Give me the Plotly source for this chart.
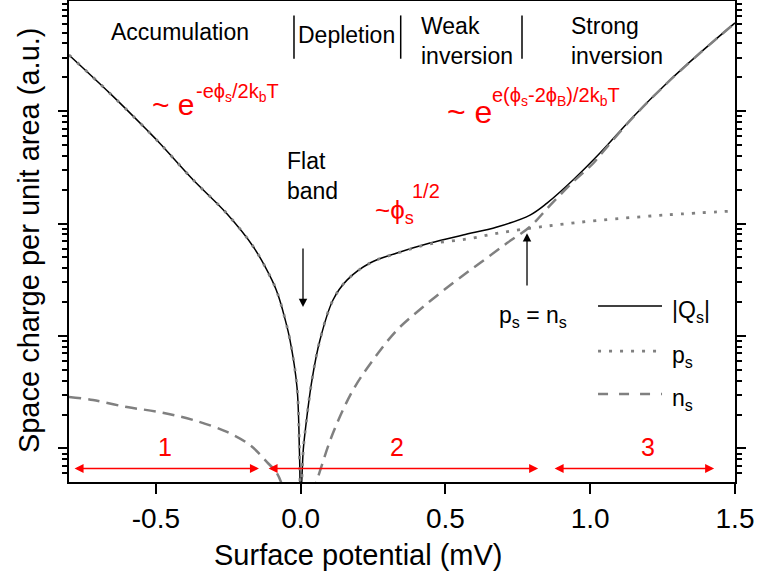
import plotly.graph_objects as go

# Surface potential (mV) and space-charge components (a.u.)
qs_phi = [-0.80, -0.6584, -0.5306, -0.4857, -0.3707, -0.2554, -0.1635, -0.0990,
          -0.0827, -0.0713, -0.055, -0.0368, -0.0126, -0.0041, 0.0, 0.0090, 0.0149,
          0.0390, 0.0667, 0.1117, 0.1600, 0.2395, 0.3327, 0.4467, 0.5607, 0.6781,
          0.7921, 0.8508, 0.9406, 1.0338, 1.1478, 1.2652, 1.3792, 1.50]
qs_val = [3162, 1439, 679, 516, 244, 123, 62.2, 31.4,
          25.0, 20.5, 14.5, 9.2, 3.5, 0.93, 0.35, 0.97, 1.37,
          4.05, 9.2, 20.9, 31.4, 44.6, 54.7, 67.1, 79.1, 93.1,
          119, 152, 244, 424, 889, 1782, 3296, 6095]

ps_phi = [-0.80, -0.6584, -0.5306, -0.4857, -0.3707, -0.2554, -0.1635, -0.0990,
          -0.0827, -0.0713, -0.055, -0.0368, -0.0126, -0.0041, 0.0, 0.0090, 0.0149,
          0.0390, 0.0667, 0.1117, 0.1600, 0.2395, 0.3327, 0.4467, 0.5735, 0.6885,
          0.8024, 0.8843, 1.0338, 1.2642, 1.50]
ps_val = [3162, 1439, 679, 516, 244, 123, 62.2, 31.4,
          25.0, 20.5, 14.5, 9.2, 3.5, 0.93, 0.35, 0.97, 1.37,
          4.05, 9.2, 20.9, 31.4, 44.6, 54.5, 66.0, 72.8, 82.8,
          91.6, 97.3, 107.2, 119.4, 129.7]

ns_phi = [-0.80, -0.7171, -0.5997, -0.4857, -0.3718, -0.2544, -0.1749, -0.1162,
          -0.0817, -0.045, 0.0, 0.030, 0.0565, 0.1117, 0.1808, 0.2499, 0.3328,
          0.4225, 0.5261, 0.6194, 0.7126, 0.7921, 0.8612, 0.9417, 1.0108, 1.0338,
          1.1478, 1.2652, 1.3792, 1.50]
ns_val = [2.87, 2.69, 2.33, 2.10, 1.79, 1.40, 1.07, 0.755,
          0.60, 0.36, 0.25, 0.33, 0.523, 1.37, 3.30, 6.11, 11.3,
          18.1, 29.6, 44.6, 67.1, 93.8, 145, 236, 344, 405,
          880, 1775, 3290, 6090]

x_ticks = [-0.5, 0.0, 0.5, 1.0, 1.5]
x_tick_text = ["-0.5", "0.0", "0.5", "1.0", "1.5"]

# Regions marked with numbered double arrows along the bottom
region_spans = [(-0.786, -0.144), (-0.116, 0.820), (0.872, 1.428)]
region_names = ["1", "2", "3"]
region_label_x = [-0.4685, 0.3327, 1.1996]

# Boundaries between the named regimes at the top
regime_bounds = [-0.023, 0.3455, 0.7644]

FONT = "Liberation Sans, Arial, sans-serif"
GREY = "rgb(128,128,128)"
RED = "rgb(255,0,0)"
DOT = "3px,8px"
DASH = "12px,7px"

fig = go.Figure()
fig.add_trace(go.Scatter(x=qs_phi, y=qs_val, mode="lines", name="|Q<sub>s</sub>|",
                         line=dict(color="black", width=1.5, shape="spline", smoothing=1.0)))
fig.add_trace(go.Scatter(x=ps_phi, y=ps_val, mode="lines", name="p<sub>s</sub>",
                         line=dict(color=GREY, width=2.8, dash=DOT, shape="spline", smoothing=1.0)))
fig.add_trace(go.Scatter(x=ns_phi, y=ns_val, mode="lines", name="n<sub>s</sub>",
                         line=dict(color=GREY, width=2.5, dash=DASH, shape="spline", smoothing=1.0)))

ann = []
shapes = []


def text(x, y, s, size, color="black", xanchor="center", yanchor="middle", align="center"):
    ann.append(dict(x=x, y=y, xref="x", yref="y", text=s, showarrow=False,
                    font=dict(family=FONT, size=size, color=color),
                    xanchor=xanchor, yanchor=yanchor, align=align))


# Regime names
text(-0.4167, 3.70, "Accumulation", 23)
text(0.160, 3.68, "Depletion", 23)
text(0.410, 3.62, "Weak<br>inversion", 23, xanchor="left", align="left")
text(0.928, 3.62, "Strong<br>inversion", 23, xanchor="left", align="left")
for xb in regime_bounds:
    shapes.append(dict(type="line", xref="x", yref="paper", x0=xb, x1=xb, y0=0.880, y1=0.970,
                       line=dict(color="black", width=1.5)))

# Asymptotic forms
text(-0.5203, 3.063, "~ e", 30, RED, xanchor="left")
text(-0.3683, 3.170, "-eϕ<sub>s</sub>/2k<sub>b</sub>T", 20, RED, xanchor="left")
text(0.4985, 2.992, "~ e", 32, RED, xanchor="left")
text(0.654, 3.134, "e(ϕ<sub>s</sub>-2ϕ<sub>B</sub>)/2k<sub>b</sub>T", 20, RED, xanchor="left")
text(0.2499, 2.111, "~ϕ<sub>s</sub>", 26, RED, xanchor="left")
text(0.3776, 2.29, "1/2", 20, RED, xanchor="left")

# Flat band and crossing point
text(-0.054, 2.42, "Flat<br>band", 23, xanchor="left", align="left")
ann.append(dict(x=0.0081, y=1.257, ax=0.0081, ay=1.791, xref="x", yref="y", axref="x", ayref="y",
                text="", showarrow=True, arrowhead=2, arrowsize=1.3, arrowwidth=1.3, arrowcolor="black"))
text(0.8024, 1.17, "p<sub>s</sub> = n<sub>s</sub>", 23)
ann.append(dict(x=0.7817, y=1.915, ax=0.7817, ay=1.435, xref="x", yref="y", axref="x", ayref="y",
                text="", showarrow=True, arrowhead=2, arrowsize=1.3, arrowwidth=1.3, arrowcolor="black"))

# Region arrows
for (a, b), name, lx in zip(region_spans, region_names, region_label_x):
    ann.append(dict(x=b, y=-0.178, ax=a, ay=-0.178, xref="x", yref="y", axref="x", ayref="y",
                    text="", showarrow=True, arrowhead=2, startarrowhead=2, arrowside="end+start",
                    arrowsize=1.2, startarrowsize=1.2, arrowwidth=1.5, arrowcolor=RED))
    text(lx, 0.01, name, 25, RED)

# Legend drawn inside the frame
legend_rows = [(0.366, "|Q<sub>s</sub>|", dict(color="black", width=1.5)),
               (0.272, "p<sub>s</sub>", dict(color=GREY, width=2.8, dash=DOT)),
               (0.183, "n<sub>s</sub>", dict(color=GREY, width=2.5, dash="10px,11px"))]
for yp, label, ln in legend_rows:
    shapes.append(dict(type="line", xref="x", yref="paper", x0=1.027, x1=1.248, y0=yp, y1=yp, line=ln))
    ann.append(dict(x=1.2756, y=yp - 0.012, xref="x", yref="paper", text=label, showarrow=False,
                    font=dict(family=FONT, size=23, color="black"), xanchor="left", yanchor="middle"))

# Axis titles
ann.append(dict(x=0.434, y=-0.152, xref="paper", yref="paper", text="Surface potential (mV)",
                showarrow=False, font=dict(family=FONT, size=29, color="black"),
                xanchor="center", yanchor="middle"))
ann.append(dict(x=-0.060, y=0.503, xref="paper", yref="paper", text="Space charge per unit area (a.u.)",
                showarrow=False, textangle=-90, font=dict(family=FONT, size=29, color="black"),
                xanchor="center", yanchor="middle"))

minor_vals = [k * 10.0 ** d for d in range(-1, 4) for k in range(2, 10)]

fig.update_layout(
    width=758, height=573,
    margin=dict(l=69, r=23, t=1, b=91),
    paper_bgcolor="white", plot_bgcolor="white",
    showlegend=False,
    annotations=ann, shapes=shapes,
    font=dict(family=FONT, color="black"),
    xaxis=dict(range=[-0.8, 1.5], showline=True, linewidth=2, linecolor="black", mirror="ticks",
               ticks="outside", ticklen=10, tickwidth=2, tickcolor="black",
               tickvals=x_ticks, ticktext=x_tick_text, tickfont=dict(size=28, family=FONT),
               showgrid=False, zeroline=False, automargin=False),
    yaxis=dict(type="log", range=[-0.299, 3.98], showline=True, linewidth=2, linecolor="black",
               mirror="ticks", ticks="outside", ticklen=9, tickwidth=2, tickcolor="black",
               tickmode="linear", tick0=0, dtick=1, showticklabels=False,
               minor=dict(tickvals=minor_vals, ticks="outside", ticklen=5, tickwidth=1.5,
                          tickcolor="black", showgrid=False),
               showgrid=False, zeroline=False, automargin=False),
)

fig.write_html("out.html")
